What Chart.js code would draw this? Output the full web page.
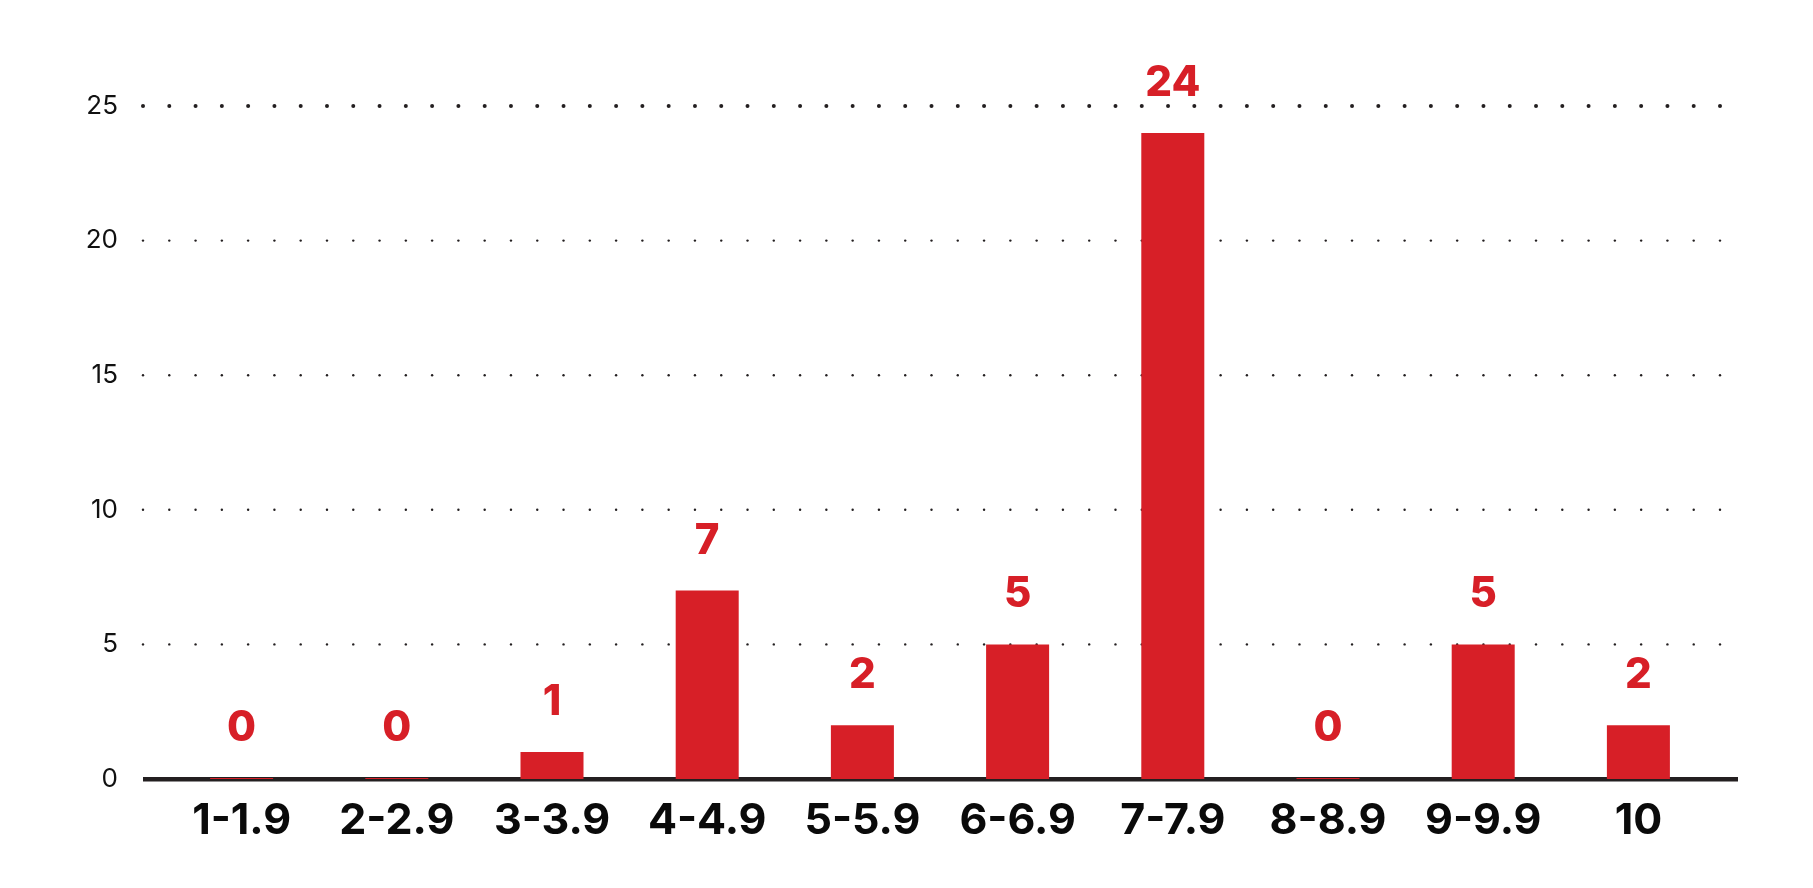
<!DOCTYPE html>
<html>
<head>
<meta charset="utf-8">
<script src="https://cdn.jsdelivr.net/npm/chart.js@4/dist/chart.umd.min.js"></script>
<style>
  html, body { margin: 0; padding: 0; background: #ffffff; }
  #wrap { width: 1813px; height: 888px; position: relative; }
</style>
</head>
<body>
<div id="wrap"><canvas id="c" width="1813" height="888"></canvas></div>
<script>
const categories = ['1-1.9', '2-2.9', '3-3.9', '4-4.9', '5-5.9', '6-6.9', '7-7.9', '8-8.9', '9-9.9', '10'];
const counts = [0, 0, 1, 7, 2, 5, 24, 0, 5, 2];
const yTicks = [0, 5, 10, 15, 20, 25];

const RED = '#d71f27';
const INK = '#231f20';

const dotGrid = {
  id: 'dotGrid',
  beforeDatasetsDraw(chart) {
    const { ctx, chartArea, scales } = chart;
    const y = scales.y;
    const x0 = chartArea.left - 21;
    const x1 = chartArea.right + 4;
    const n = 60;
    const step = (x1 - x0) / n;
    ctx.save();
    ctx.fillStyle = INK;
    yTicks.forEach(v => {
      if (v === 0) return;
      const py = y.getPixelForValue(v);
      const r = v === 25 ? 2 : 1.2;
      for (let i = 0; i <= n; i++) {
        ctx.beginPath();
        ctx.arc(x0 + i * step, py, r, 0, Math.PI * 2);
        ctx.fill();
      }
    });
    const by = y.getPixelForValue(0);
    ctx.fillStyle = INK;
    ctx.fillRect(chartArea.left - 21, by - 2, (chartArea.right + 22) - (chartArea.left - 21), 4.5);
    ctx.restore();
  }
};

const valueLabels = {
  id: 'valueLabels',
  afterDatasetsDraw(chart) {
    const { ctx } = chart;
    const meta = chart.getDatasetMeta(0);
    ctx.save();
    ctx.fillStyle = RED;
    ctx.font = '800 42px Inter';
    ctx.textAlign = 'center';
    ctx.textBaseline = 'alphabetic';
    meta.data.forEach((bar, i) => {
      ctx.fillText(String(counts[i]), bar.x, bar.y - 37);
    });
    ctx.restore();
  }
};

new Chart(document.getElementById('c'), {
  type: 'bar',
  data: {
    labels: categories,
    datasets: [{
      data: counts,
      backgroundColor: RED,
      borderWidth: 0,
      minBarLength: 1,
      categoryPercentage: 1,
      barPercentage: 0.406
    }]
  },
  options: {
    responsive: false,
    animation: false,
    devicePixelRatio: 1,
    layout: { padding: { top: 106, right: 97, bottom: 0, left: 0 } },
    plugins: { legend: { display: false }, tooltip: { enabled: false } },
    scales: {
      x: {
        grid: { display: false, drawTicks: false },
        border: { display: false },
        ticks: {
          color: '#0a0a0a',
          font: { family: 'Inter', size: 43, weight: '700' },
          padding: 16,
          maxRotation: 0,
          autoSkip: false
        },
        afterFit(scale) { scale.height = 109; }
      },
      y: {
        min: 0,
        max: 25,
        grid: { display: false, drawTicks: false },
        border: { display: false },
        ticks: {
          stepSize: 5,
          color: '#111111',
          font: { family: 'Inter', size: 26, weight: '400' },
          padding: 46
        },
        afterFit(scale) { scale.width = 164; }
      }
    }
  },
  plugins: [dotGrid, valueLabels]
});
</script>
</body>
</html>
